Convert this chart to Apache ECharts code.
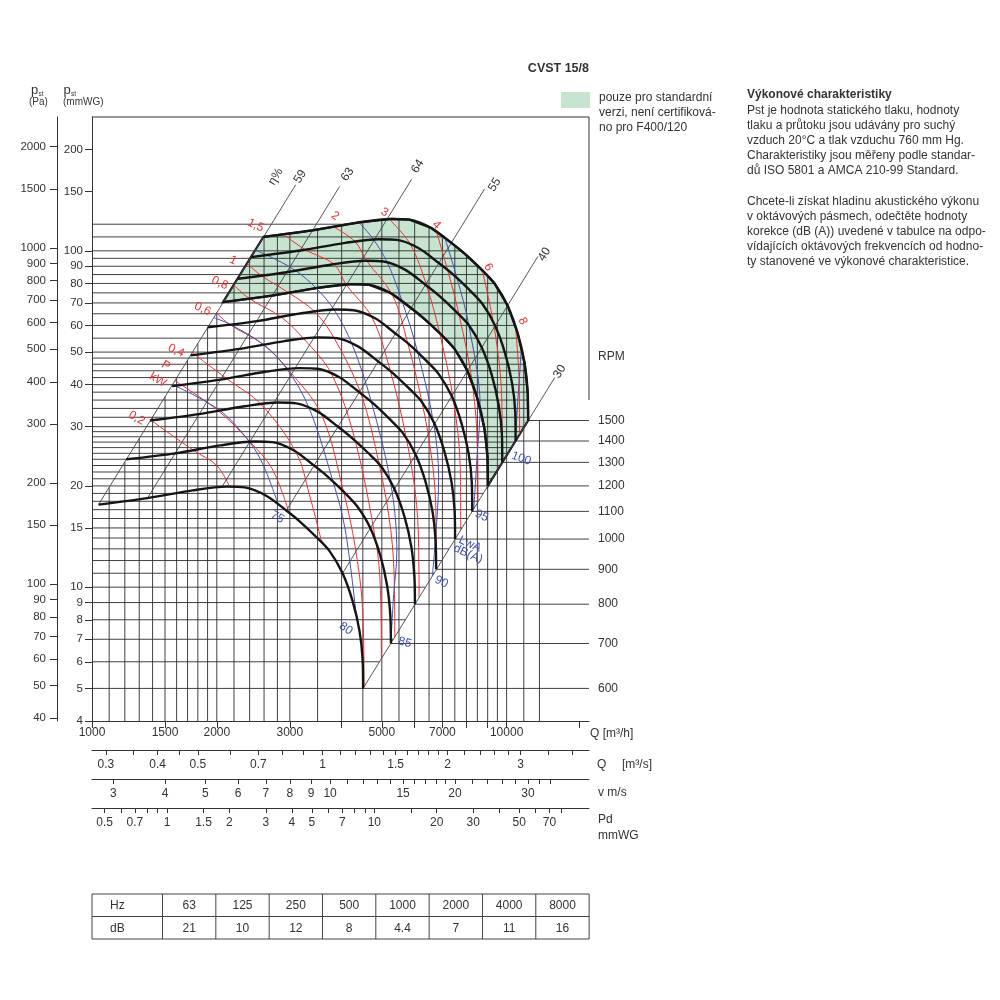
<!DOCTYPE html>
<html><head><meta charset="utf-8">
<script src="https://cdn.jsdelivr.net/npm/echarts@6/dist/echarts.min.js"></script>
<style>html,body{margin:0;padding:0;background:#fff}#c{width:1000px;height:1000px}</style>
</head><body><div id="c"></div>
<script>
// ---------------- DATA ----------------
const rpmValues = [600, 700, 800, 900, 1000, 1100, 1200, 1300, 1400, 1500];
// fan curves: [Q m3/h, pst mmWG]
const curve600 = [[1037,17.6],[1361,18.4],[1748,19.4],[2108,19.9],[2333,19.8],[2632,18.7],[2942,16.9],[3167,15.7],[3474,14.1],[3741,12.8],[4021,11.0],[4250,9.1],[4418,7.4],[4494,6.1],[4506,5.0]];
const curve700 = [[1210,24.0],[1590,25.0],[2040,26.4],[2460,27.1],[2720,27.0],[3070,25.5],[3430,23.0],[3690,21.4],[4050,19.2],[4360,17.4],[4690,15.0],[4960,12.4],[5150,10.1],[5240,8.3],[5260,6.8]];
const curve800 = [[1380,31.3],[1810,32.7],[2330,34.5],[2810,35.4],[3110,35.2],[3510,33.2],[3920,30.0],[4220,27.9],[4630,25.1],[4990,22.8],[5360,19.6],[5670,16.2],[5890,13.2],[5990,10.8],[6010,8.9]];
const curve900 = [[1560,39.6],[2040,41.4],[2620,43.7],[3160,44.8],[3500,44.6],[3950,42.1],[4410,38.0],[4750,35.3],[5210,31.7],[5610,28.8],[6030,24.8],[6380,20.5],[6630,16.7],[6740,13.7],[6760,11.3]];
const curve1000 = [[1730,48.9],[2270,51.1],[2910,53.9],[3510,55.3],[3890,55.0],[4390,51.9],[4900,46.9],[5280,43.6],[5790,39.2],[6240,35.6],[6700,30.6],[7080,25.3],[7360,20.6],[7490,16.9],[7510,13.9]];
const curve1100 = [[1900,59.2],[2500,61.8],[3200,65.2],[3860,66.9],[4280,66.6],[4830,62.9],[5390,56.8],[5810,52.8],[6370,47.4],[6860,43.0],[7370,37.0],[7790,30.6],[8100,24.9],[8240,20.5],[8260,16.8]];
const curve1200 = [[2070,70.4],[2720,73.6],[3500,77.6],[4220,79.6],[4670,79.2],[5260,74.8],[5880,67.6],[6330,62.8],[6950,56.4],[7480,51.2],[8040,44.0],[8500,36.4],[8840,29.6],[8990,24.4],[9010,20.0]];
const curve1300 = [[2250,82.6],[2950,86.4],[3790,91.1],[4570,93.4],[5050,93.0],[5700,87.8],[6370,79.3],[6860,73.7],[7530,66.2],[8110,60.1],[8710,51.6],[9210,42.7],[9570,34.7],[9740,28.6],[9760,23.5]];
const curve1400 = [[2420,95.8],[3180,100.2],[4080,105.6],[4920,108.3],[5440,107.8],[6140,101.8],[6860,92.0],[7390,85.5],[8110,76.8],[8730,69.7],[9380,59.9],[9920,49.5],[10310,40.3],[10490,33.2],[10510,27.2]];
const curve1500 = [[2590,110.0],[3400,115.0],[4370,121.3],[5270,124.4],[5830,123.8],[6580,116.9],[7360,105.6],[7920,98.1],[8690,88.1],[9350,80.0],[10050,68.8],[10630,56.9],[11050,46.3],[11240,38.1],[11270,31.3]];
const rpmCurves = [curve600, curve700, curve800, curve900, curve1000, curve1100, curve1200, curve1300, curve1400, curve1500];

// shaft power lines P [kW]
const powerNames = ['0,2','0,3','0,4','0,6','0,8','1','1,5','2','3','4','6','8'];
const power02 = [[1385,31.4],[1758,25.5],[2000,23.0],[2147,19.9]];
const power03 = [[1585,41.1],[2020,33.4],[2408,27.0],[2719,22.5],[2990,16.6]];
const power04 = [[1745,49.8],[2111,41.7],[2560,34.9],[3114,25.0],[3342,18.9],[3581,13.6]];
const power06 = [[1997,65.3],[2152,60.3],[2600,52.5],[2971,44.4],[3576,32.6],[4039,19.3],[4307,13.3],[4495,8.6],[4531,5.06]];
const power08 = [[2198,79.1],[2400,72.0],[2860,63.5],[3243,54.7],[3780,43.1],[4312,27.3],[4850,13.4],[4957,10.1],[4988,6.13]];
const power1 = [[2368,91.8],[2563,84.3],[2988,74.9],[3445,65.9],[3848,54.7],[4452,37.6],[4931,23.1],[5255,14.8],[5363,10.0],[5373,7.11]];
const power15 = [[2898,111.9],[3271,100.7],[3835,91.2],[4108,79.2],[4737,63.3],[5243,43.9],[5733,27.6],[6066,17.6],[6144,11.4],[6150,9.31]];
const power2 = [[3835,117.7],[4310,106.5],[4598,93.3],[5300,74.0],[5775,53.1],[6253,35.4],[6583,24.7],[6741,17.9],[6770,11.29]];
const power3 = [[5218,124.0],[5860,104.5],[6413,78.8],[6892,57.0],[7443,35.9],[7730,22.7],[7750,14.8]];
const power4 = [[6775,113.8],[7203,87.8],[7681,64.5],[8272,40.2],[8514,24.8],[8530,17.9]];
const power6 = [[8738,87.5],[9284,61.4],[9628,44.6],[9742,34.5],[9762,23.5]];
const power8 = [[10510,59.3],[10725,40.0],[10746,28.4]];
const powerLines = [power02, power03, power04, power06, power08, power1, power15, power2, power3, power4, power6, power8];

// sound power lines LwA dB(A)
const soundNames = ['75','80','85','90','95','100'];
const sound75 = [[1563,40.0],[2029,33.6],[2400,27.0],[2591,23.0],[2800,17.9]];
const sound80 = [[1967,63.3],[2156,60.4],[2585,52.7],[2957,44.4],[3341,34.0],[3809,20.7],[4077,14.9],[4330,8.4]];
const sound85 = [[2476,100.4],[2639,97.2],[3090,87.5],[3474,77.4],[3843,66.6],[4240,52.7],[4707,35.9],[5252,20.4],[5435,12.7],[5340,9.5],[5257,6.8]];
const sound90 = [[4410,121.4],[4776,108.0],[5159,92.1],[5576,71.8],[6094,50.2],[6660,30.9],[6856,21.1],[6701,12.8],[6619,10.8]];
const sound95 = [[7070,110.9],[7583,83.3],[8106,60.1],[8632,34.2],[8499,25.1],[8332,17.1]];
const sound100 = [[10855,51.4],[10708,40.2],[10490,27.1]];
const soundLines = [sound75, sound80, sound85, sound90, sound95, sound100];

// efficiency lines eta %
const etaNames = ['59','63','64','55','40','30'];
const eta59 = [[1037,17.6],[3100,157.3]];
const eta63 = [[1361,18.4],[3955,155.4]];
const eta64 = [[2060,19.9],[5900,163.2]];
const eta55 = [[2942,16.9],[8850,152.9]];
const eta40 = [[4021,11.0],[11900,96.3]];
const eta30 = [[4506,5.0],[13060,42.0]];
const etaLines = [eta59, eta63, eta64, eta55, eta40, eta30];

// chart grid values
const gridP = [5,6,7,8,9,10,11,12,13,14,15,16,17,18,19,20,21,22,23,24,25,26,27,28,29,30,32,34,36,38,40,42,44,46,48,50,55,60,65,70,75,80,85,90,95,100,110,120];
const gridQ = [1100,1200,1300,1400,1500,1600,1700,1800,1900,2000,2200,2400,2600,2800,3000,3500,4000,4500,5000,5500,6000,6500,7000,7500,8000,8500,9000,9500,10000,11000,12000];

// axis ticks / labels
const qTicks = [1000,1500,2000,3000,4000,5000,6000,7000,8000,9000,10000,15000];
const qLabels = [1000,1500,2000,3000,5000,7000,10000];
const pLabels = [4,5,6,7,8,9,10,15,20,30,40,50,60,70,80,90,100,150,200];
const paLabels = [40,50,60,70,80,90,100,150,200,300,400,500,600,700,800,900,1000,1500,2000];
const qsTicks = [0.3,0.35,0.4,0.45,0.5,0.6,0.7,0.8,0.9,1,1.1,1.2,1.3,1.4,1.5,1.6,1.7,1.8,1.9,2,2.2,2.4,2.6,2.8,3,3.5,4];
const qsLabels = [0.3,0.4,0.5,0.7,1,1.5,2,3];
const vTicks = [3,4,5,6,7,8,9,10,11,12,13,14,15,16,17,18,19,20,22,24,26,28,30,32,34];
const vLabels = [3,4,5,6,7,8,9,10,15,20,30];
const pdTicks = [0.5,0.6,0.7,0.8,0.9,1,1.5,2,3,4,5,6,7,8,9,10,15,20,30,40,50,60,70,80];
const pdLabels = [0.5,0.7,1,1.5,2,3,4,5,7,10,20,30,50,70];

// octave band correction table
const octaveHz = ['63','125','250','500','1000','2000','4000','8000'];
const octaveDb = ['21','10','12','8','4.4','7','11','16'];

// texts
const titleText = 'CVST 15/8';
const legendLines = ['pouze pro standardní','verzi, není certifiková-','no pro F400/120'];
const noteTitle = 'Výkonové charakteristiky';
const noteBlock1 = ['Pst je hodnota statického tlaku, hodnoty','tlaku a průtoku jsou udávány pro suchý','vzduch 20°C a tlak vzduchu 760 mm Hg.','Charakteristiky jsou měřeny podle standar-','dů ISO 5801 a AMCA 210-99 Standard.'];
const noteBlock2 = ['Chcete-li získat hladinu akustického výkonu','v oktávových pásmech, odečtěte hodnoty','korekce (dB (A)) uvedené v tabulce na odpo-','vídajících oktávových frekvencích od hodno-','ty stanovené ve výkonové charakteristice.'];

// ---------------- STYLE ----------------
const FONT = '"Liberation Sans", Arial, Helvetica, sans-serif';
const Q_MIN = 1000, Q_MAX = 15800, P_MIN = 4, P_MAX = 250;
const FRAME_RIGHT_END = 36;   // right frame side stops above the RPM scale
const RED = '#f03030', BLUE = '#4151b4', TXT = '#333';
const GREEN = '#c6e4d0';
// label offsets (px) and rotation (deg)
const etaLabelStyle = [[4.5,-8],[8,-12],[6,-13],[10,-4],[6.5,-2],[5,-6]];
const powerLabelStyle = [[-14,-2,-30], null, [-16,-2,-25], [-14,-4,-25], [-14,-2,-25], [-14,-3,-25], [-28,-9,-25], [1,-11,-35], [-5,-7,-30], [0,-7,-45], [6,-3,-60], [7,-6,-65]];
const soundLabelStyle = [[0,15,-30],[-10,16,-35],[14,-1,-15],[9,6,-25],[8,7,-25],[6,17,-20]];

// ---------------- BUILD ----------------
const lg = Math.log10;
function crossQ(poly, p) {
  const lp = lg(p);
  for (let i = 0; i < poly.length - 1; i++) {
    const a = poly[i], b = poly[i + 1];
    const la = lg(a[1]), lb = lg(b[1]);
    if ((lp - la) * (lp - lb) < 0 || Math.abs(lp - lb) < 1e-9) {
      const t = (lp - la) / (lb - la);
      return Math.pow(10, lg(a[0]) + t * (lg(b[0]) - lg(a[0])));
    }
  }
  return null;
}
function crossP(poly, q) {
  const lq = lg(q);
  for (let i = 0; i < poly.length - 1; i++) {
    const a = poly[i], b = poly[i + 1];
    const la = lg(a[0]), lb = lg(b[0]);
    if ((lq - la) * (lq - lb) <= 0 && la !== lb) {
      const t = (lq - la) / (lb - la);
      return Math.pow(10, lg(a[1]) + t * (lg(b[1]) - lg(a[1])));
    }
  }
  return null;
}
const topCurve = rpmCurves[rpmCurves.length - 1];
const lowCurve = rpmCurves[0];
const rightEnv = topCurve.concat([lowCurve[lowCurve.length - 1]]);
const topEnv = [lowCurve[0]].concat(topCurve, [[Q_MAX, topCurve[topCurve.length - 1][1]]]);

const segs = [];
gridP.forEach(p => { const q2 = crossQ(rightEnv, p); if (q2) segs.push([Q_MIN, p, q2, p]); });
gridQ.forEach(q => { const p2 = crossP(topEnv, q); if (p2) segs.push([q, P_MIN, q, p2]); });
rpmCurves.forEach(c => { const e = c[c.length - 1]; segs.push([e[0], e[1], Q_MAX, e[1]]); });
// frame: top side and upper part of right side
const frameSegs = [[Q_MIN, P_MAX, Q_MAX, P_MAX], [Q_MAX, P_MAX, Q_MAX, FRAME_RIGHT_END]];

const labels = [];
function addLabel(pt, text, dx, dy, rot, color, align, size, weight) {
  labels.push({ value: pt, text, dx, dy, rot, color, align: align || 'center', size: size || 12, weight: weight || 'normal' });
}
etaLines.forEach((ln, i) => addLabel(ln[1], etaNames[i], etaLabelStyle[i][0], etaLabelStyle[i][1], 58, TXT));
addLabel(eta59[1], 'η%', -20, -8, 58, TXT);
powerLines.forEach((ln, i) => { const s = powerLabelStyle[i]; if (s) addLabel(ln[0], powerNames[i], s[0], s[1], s[2], RED); });
addLabel(power03[0], 'P', -9, -15, -30, RED);
addLabel(power03[0], 'kW', -17, -1, -30, RED);
soundLines.forEach((ln, i) => { const s = soundLabelStyle[i]; addLabel(ln[ln.length - 1], soundNames[i], s[0], s[1], s[2], BLUE); });
addLabel(curve1000[curve1000.length - 1], 'LwA', 15, 5, -25, BLUE);
addLabel(curve1000[curve1000.length - 1], 'dB(A)', 13, 15, -25, BLUE);
rpmCurves.forEach((c, i) => addLabel([Q_MAX, c[c.length - 1][1]], String(rpmValues[i]), 9, 0, 0, TXT, 'left'));

function segSeries(data, color, width, z) {
  return {
    type: 'custom', silent: true, z, clip: false,
    dimensions: ['q1','p1','q2','p2'],
    encode: { x: [0, 2], y: [1, 3] },
    data,
    renderItem: (params, api) => {
      const a = api.coord([api.value(0), api.value(1)]);
      const b = api.coord([api.value(2), api.value(3)]);
      return { type: 'line', shape: { x1: a[0], y1: a[1], x2: b[0], y2: b[1] }, style: { stroke: color, lineWidth: width } };
    }
  };
}

const series = [];
// green region between 1200 and 1500 rpm
series.push({
  type: 'custom', silent: true, z: 1,
  data: [curve1500[0]],
  renderItem: (params, api) => {
    const poly = curve1500.concat(curve1200.slice().reverse());
    const pts = poly.map(pt => api.coord(pt));
    return { type: 'polygon', shape: { points: pts }, style: { fill: GREEN, stroke: '#151515', lineWidth: 2.2 } };
  }
});
series.push(segSeries(segs, '#2b2b2b', 0.9, 2));
series.push(segSeries(frameSegs, '#333', 1, 2));
powerLines.forEach(ln => series.push({ type: 'line', data: ln, symbol: 'none', smooth: 0.35, silent: true, z: 3, lineStyle: { color: RED, width: 1 } }));
soundLines.forEach(ln => series.push({ type: 'line', data: ln, symbol: 'none', smooth: 0.35, silent: true, z: 3, lineStyle: { color: BLUE, width: 1 } }));
etaLines.forEach(ln => series.push({ type: 'line', data: ln, symbol: 'none', silent: true, z: 4, lineStyle: { color: '#444', width: 0.9 } }));
rpmCurves.forEach(c => series.push({ type: 'line', data: c, symbol: 'none', smooth: 0.3, silent: true, z: 5, lineStyle: { color: '#151515', width: 2.4 } }));
// annotation labels
series.push({
  type: 'custom', silent: true, z: 6, clip: false,
  data: labels.map(l => l.value),
  renderItem: (params, api) => {
    const l = labels[params.dataIndex];
    const c = api.coord(l.value);
    return { type: 'text', x: c[0] + l.dx, y: c[1] + l.dy, rotation: l.rot * Math.PI / 180,
      style: { text: l.text, fill: l.color, fontSize: l.size, fontFamily: FONT, fontWeight: l.weight, align: l.align, verticalAlign: 'middle' } };
  }
});

function logAxisX(min, max, offset, ticks, labs, tickLen, margin) {
  return {
    type: 'log', logBase: 10, min, max, position: 'bottom', offset, gridIndex: 0,
    axisLine: { show: true, onZero: false, lineStyle: { color: '#333', width: 1 } },
    axisTick: { show: true, inside: false, length: tickLen, customValues: ticks, lineStyle: { color: '#333', width: 1 } },
    axisLabel: { show: true, customValues: labs, margin, formatter: v => String(v), color: TXT, fontSize: 12, fontFamily: FONT },
    splitLine: { show: false }, minorTick: { show: false }
  };
}
function logAxisY(min, max, offset, labs, margin, fs) {
  return {
    type: 'log', logBase: 10, min, max, position: 'left', offset, gridIndex: 0,
    axisLine: { show: true, onZero: false, lineStyle: { color: '#333', width: 1 } },
    axisTick: { show: true, inside: false, length: 7, customValues: labs, lineStyle: { color: '#333', width: 1 } },
    axisLabel: { show: true, customValues: labs, margin, formatter: v => String(v), color: TXT, fontSize: fs, fontFamily: FONT },
    splitLine: { show: false }, minorTick: { show: false }
  };
}

// graphic texts
const g = [];
function txt(x, y, text, o) {
  g.push({ type: 'text', x, y, silent: true, style: Object.assign({ text, fill: TXT, fontSize: 12, fontFamily: FONT, align: 'left', verticalAlign: 'middle' }, o || {}) });
}
txt(589, 69, titleText, { align: 'right', fontWeight: 'bold', fontSize: 12.5 });
g.push({ type: 'rect', silent: true, shape: { x: 561, y: 92, width: 29, height: 16 }, style: { fill: GREEN } });
legendLines.forEach((s, i) => txt(599, 98 + 15 * i, s));
txt(747, 95, noteTitle, { fontWeight: 'bold' });
noteBlock1.forEach((s, i) => txt(747, 111 + 15 * i, s));
noteBlock2.forEach((s, i) => txt(747, 202 + 15 * i, s));
txt(31, 90, 'p', { fontSize: 13 }); txt(38.5, 94, 'st', { fontSize: 6.5 }); txt(29, 102, '(Pa)', { fontSize: 10 });
txt(63.5, 90, 'p', { fontSize: 13 }); txt(71, 94, 'st', { fontSize: 6.5 }); txt(63, 102, '(mmWG)', { fontSize: 10 });
txt(598, 357, 'RPM');
txt(590, 734, 'Q [m³/h]');
txt(597, 765, 'Q'); txt(622, 765, '[m³/s]');
txt(598, 793, 'v m/s');
txt(598, 820, 'Pd'); txt(598, 836, 'mmWG');
// table
const tx = 92, ty = 894, c0 = 70.5, cw = 53.33, rh = 22.5;
const tw = c0 + cw * octaveHz.length;
g.push({ type: 'rect', silent: true, shape: { x: tx, y: ty, width: tw, height: rh * 2 }, style: { fill: 'none', stroke: '#444', lineWidth: 1 } });
g.push({ type: 'line', silent: true, shape: { x1: tx, y1: ty + rh, x2: tx + tw, y2: ty + rh }, style: { stroke: '#444', lineWidth: 1 } });
for (let i = 0; i < octaveHz.length; i++) {
  const x = tx + c0 + cw * i;
  g.push({ type: 'line', silent: true, shape: { x1: x, y1: ty, x2: x, y2: ty + rh * 2 }, style: { stroke: '#444', lineWidth: 1 } });
  txt(x + cw / 2, ty + rh / 2 + 0.5, octaveHz[i], { align: 'center' });
  txt(x + cw / 2, ty + rh * 1.5 + 0.5, octaveDb[i], { align: 'center' });
}
txt(tx + 18, ty + rh / 2 + 0.5, 'Hz');
txt(tx + 18, ty + rh * 1.5 + 0.5, 'dB');

const option = {
  animation: false,
  backgroundColor: '#fff',
  grid: [{ left: 92, top: 117, width: 497, height: 604, show: false, containLabel: false }],
  xAxis: [
    logAxisX(Q_MIN, Q_MAX, 0, qTicks, qLabels, 7, 6),
    logAxisX(Q_MIN / 3600, Q_MAX / 3600, 29, qsTicks, qsLabels, 5, 9),
    logAxisX(2.666, 42.12, 58, vTicks, vLabels, 5, 9),
    logAxisX(0.4347, 108.5, 87, pdTicks, pdLabels, 5, 9)
  ],
  yAxis: [
    logAxisY(P_MIN, P_MAX, 0, pLabels, 9, 11.5),
    logAxisY(P_MIN * 9.80665, P_MAX * 9.80665, 35, paLabels, 11, 11.5)
  ],
  series,
  graphic: g
};
const chart = echarts.init(document.getElementById('c'), null, { renderer: 'canvas' });
chart.setOption(option);
</script></body></html>
